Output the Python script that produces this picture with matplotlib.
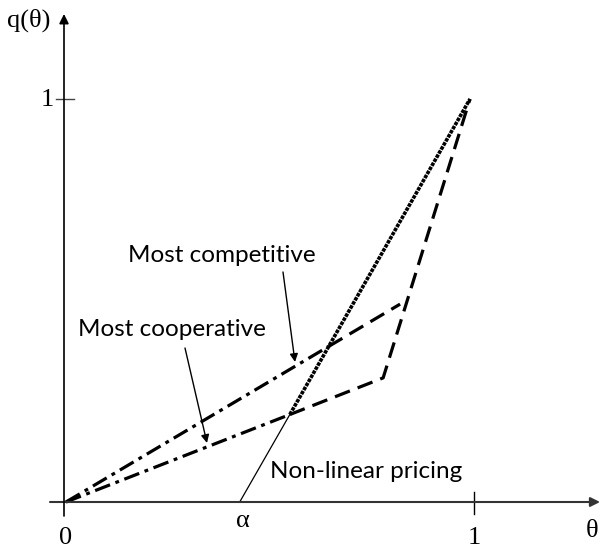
import matplotlib
matplotlib.use("Agg")
import matplotlib.pyplot as plt

# data coordinates (theta, q)
ALPHA = 0.43
competitive_dashdot = ([0.0, 0.65], [0.0, 0.386])
competitive_dashed = ([0.65, 0.827], [0.386, 0.491])
cooperative_dashdot = ([0.0, 0.554], [0.0, 0.217])
cooperative_dashed = ([0.554, 0.785, 1.0], [0.217, 0.308, 1.0])
nonlinear_dotted = ([0.554, 1.0], [0.217, 1.0])
nonlinear_thin = ([ALPHA, 0.554], [0.0, 0.217])

W, H = 601, 552
X0, Y0 = 66, 502          # pixel position of the origin
SX, SY = 404, 403         # pixels per unit

fig = plt.figure(figsize=(W / 100, H / 100), dpi=100)
ax = fig.add_axes([0, 0, 1, 1])
ax.set_xlim(-X0 / SX, (W - X0) / SX)
ax.set_ylim(-(H - Y0) / SY, Y0 / SY)
ax.axis("off")

def px(x, y):
    return ((x - X0) / SX, (Y0 - y) / SY)

# axes with arrows
ax.annotate("", xy=px(600, 502), xytext=px(50, 502),
            arrowprops=dict(arrowstyle="-|>", color="#333333", lw=1.5,
                            mutation_scale=14, shrinkA=0, shrinkB=0))
ax.annotate("", xy=px(64, 14), xytext=px(64, 516),
            arrowprops=dict(arrowstyle="-|>", color="black", lw=1.2,
                            mutation_scale=14, shrinkA=0, shrinkB=0))
# ticks
ax.plot([-0.025, 0.02], [1, 1], color="#444444", lw=1)
ax.plot([1.01, 1.01], [-0.03, 0.025], color="black", lw=1)

serif = dict(family="Liberation Serif", fontsize=19, color="black")
ax.text(*px(29, 20), "q(θ)", ha="center", va="center", **serif)
ax.text(*px(47, 100), "1", ha="center", va="center", **serif)
ax.text(*px(66, 538), "0", ha="center", va="center", **serif)
ax.text(*px(243, 521), "α", ha="center", va="center", **serif)
ax.text(*px(474, 538), "1", ha="center", va="center", **serif)
ax.text(*px(592, 531), "θ", ha="center", va="center", **serif)

dash = (0, (5, 2.6))
dashdot = (0, (5, 1.8, 1.2, 1.8))
lw = 2.3
ax.plot(*competitive_dashdot, color="black", lw=lw, linestyle=dashdot)
ax.plot(*competitive_dashed, color="black", lw=lw, linestyle=dash)
ax.plot(*cooperative_dashdot, color="black", lw=lw, linestyle=dashdot)
ax.plot(*cooperative_dashed, color="black", lw=lw, linestyle=dash)
ax.plot(*nonlinear_dotted, color="black", lw=2.6, linestyle=(0, (1.0, 0.3)))
ax.plot(*nonlinear_thin, color="black", lw=0.9)

sans = dict(family="Lato", fontsize=17.5, color="black")
ax.text(*px(222, 256), "Most competitive", ha="center", va="center", **sans)
ax.text(*px(172, 330), "Most cooperative", ha="center", va="center", **sans)
ax.text(*px(270, 471), "Non-linear pricing", ha="left", va="center", **sans)

arrow = dict(arrowstyle="-|>", color="black", lw=1, mutation_scale=12,
             shrinkA=0, shrinkB=0)
ax.annotate("", xy=px(295, 362), xytext=px(283, 272), arrowprops=arrow)
ax.annotate("", xy=px(207, 443), xytext=px(185, 348), arrowprops=arrow)

fig.savefig("out.png", dpi=100)
